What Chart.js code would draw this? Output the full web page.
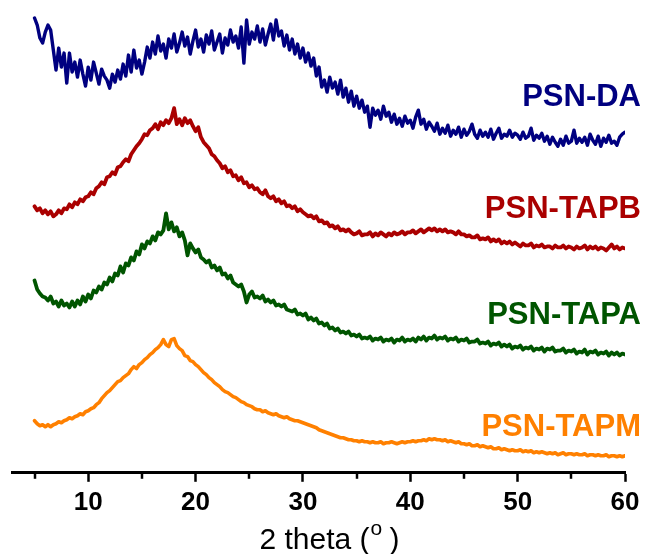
<!DOCTYPE html>
<html>
<head>
<meta charset="utf-8">
<script src="https://cdn.jsdelivr.net/npm/chart.js@4.4.1/dist/chart.umd.min.js"></script>
<style>
  html, body { margin: 0; padding: 0; background: #ffffff; }
  #wrap { width: 649px; height: 554px; }
</style>
</head>
<body>
<div id="wrap"><canvas id="xrd" width="649" height="554"></canvas></div>
<script>
// Powder XRD patterns, stacked with vertical offsets (intensity in a.u.).
// Scans run from 5° to 60° 2θ, sampled every 0.25°.
const scanStart = 5;
const scanStep = 0.25;

const psnDA = [
  454, 447, 434, 429,  440, 447, 442, 422,  402, 424, 405, 419,  389, 419, 400, 410,
  395, 412, 398, 386,  405, 392, 410, 399,  388, 403, 396, 392,  384, 398, 390, 402,
  393, 408, 396, 417,  400, 422, 404, 412,  398, 410, 425, 414,  430, 418, 436, 421,
  428, 414, 433, 424,  438, 420, 429, 440,  426, 435, 418, 431,  442, 425, 433, 420,
  437, 428, 441, 422,  430, 438, 419, 434,  427, 442, 430, 436,  424, 445, 409, 452,
  428, 440, 433, 446,  430, 443, 427, 438,  448, 432, 452, 436,  441, 426, 437, 422,
  433, 418, 428, 414,  424, 410, 419, 406,  414, 396, 405, 385,  392, 380, 395, 384,
  390, 378, 392, 375,  384, 370, 381, 366,  376, 364, 372, 360,  366, 345, 364, 357,
  362, 353, 366, 356,  360, 350, 358, 348,  354, 346, 356, 349,  352, 344, 355, 362,
  348, 353, 343, 350,  346, 341, 349, 338,  344, 339, 347, 336,  342, 338, 345, 335,
  343, 337, 341, 348,  338, 334, 342, 336,  340, 335, 343, 333,  339, 344, 334, 338,
  336, 342, 335, 339,  337, 333, 340, 334,  336, 344, 332, 337,  334, 339, 331, 336,
  328, 335, 330, 326,  333, 327, 336, 329,  331, 342, 329, 334,  330, 335, 327, 338,
  332, 328, 336, 326,  334, 330, 337, 329,  331, 327, 335, 338,  340
];

const psnTAPB = [
  266, 262, 264, 259,  262, 258, 261, 256,  258, 262, 259, 264,  263, 268, 265, 270,
  268, 273, 271, 275,  276, 280, 278, 284,  286, 290, 288, 295,  296, 300, 298, 305,
  306, 310, 313, 311,  318, 322, 326, 329,  333, 338, 337, 342,  344, 348, 343, 350,
  347, 352, 349, 354,  364, 348, 353, 347,  354, 349, 352, 346,  341, 345, 335, 330,
  327, 324, 318, 316,  312, 309, 304, 306,  300, 302, 296, 297,  292, 295, 289, 290,
  285, 287, 283, 284,  280, 278, 282, 276,  274, 276, 271, 273,  269, 271, 266, 267,
  264, 266, 261, 263,  260, 258, 256, 257,  254, 256, 251, 252,  249, 250, 246, 247,
  244, 246, 242, 243,  241, 243, 240, 238,  239, 241, 237, 238,  238, 240, 236, 239,
  237, 240, 238, 236,  239, 237, 240, 238,  239, 241, 238, 240,  240, 242, 239, 241,
  243, 240, 242, 244,  242, 244, 241, 243,  241, 243, 240, 241,  240, 238, 241, 238,
  238, 236, 237, 235,  235, 237, 233, 234,  233, 235, 231, 233,  231, 233, 229, 231,
  229, 231, 228, 230,  228, 226, 229, 227,  227, 229, 225, 227,  226, 228, 225, 226,
  226, 224, 227, 225,  225, 227, 224, 226,  225, 223, 226, 224,  225, 227, 223, 226,
  224, 226, 223, 225,  224, 222, 225, 228,  224, 226, 223, 225,  224
];

const psnTAPA = [
  192, 183, 179, 176,  175, 172, 176, 169,  171, 166, 172, 167,  169, 165, 171, 166,
  172, 168, 176, 171,  178, 174, 182, 180,  186, 183, 190, 188,  195, 191, 199, 197,
  206, 200, 209, 207,  215, 212, 221, 218,  228, 224, 231, 229,  236, 232, 240, 238,
  242, 259, 243, 250,  241, 245, 236, 240,  232, 217, 229, 224,  220, 223, 215, 213,
  210, 212, 205, 207,  202, 205, 198, 199,  194, 197, 190, 188,  186, 188, 181, 170,
  178, 181, 175, 176,  174, 177, 171, 173,  170, 172, 167, 168,  166, 168, 163, 162,
  161, 163, 158, 159,  157, 159, 153, 155,  152, 154, 149, 150,  147, 149, 144, 145,
  142, 144, 140, 141,  139, 141, 137, 138,  136, 138, 134, 135,  134, 136, 132, 134,
  133, 135, 131, 133,  132, 134, 130, 133,  132, 135, 131, 133,  132, 134, 131, 135,
  133, 136, 132, 135,  134, 137, 133, 135,  134, 136, 132, 134,  133, 135, 131, 133,
  132, 134, 130, 131,  131, 133, 129, 130,  129, 131, 127, 129,  128, 130, 126, 128,
  126, 128, 124, 126,  125, 127, 123, 125,  124, 126, 122, 124,  123, 125, 121, 124,
  123, 125, 121, 122,  122, 124, 120, 122,  121, 123, 119, 121,  120, 123, 118, 121,
  120, 122, 118, 120,  119, 121, 117, 120,  118, 120, 117, 119,  118
];

const psnTAPM = [
   52,  49,  47,  48,   46,  48,  46,  48,   49,  51,  50,  52,   53,  55,  54,  56,
   57,  59,  58,  61,   62,  64,  65,  68,   70,  74,  77,  80,   82,  85,  88,  91,
   92,  95,  97,  99,  103, 106, 104, 108,  110, 113, 115, 118,  120, 123, 125, 128,
  133, 128, 126, 133,  134, 127, 124, 122,  117, 116, 112, 111,  108, 106, 103, 100,
   98,  95,  93,  90,   88,  86,  83,  81,   80,  78,  76,  75,   73,  71,  70,  68,
   67,  66,  64,  63,   63,  61,  62,  60,   59,  58,  59,  57,   56,  55,  56,  54,
   53,  52,  52,  51,   50,  49,  48,  47,   46,  45,  43,  42,   41,  40,  39,  38,
   37,  36,  35,  35,   34,  33,  33,  32,   32,  31,  32,  31,   31,  30,  31,  30,
   30,  31,  29,  30,   30,  31,  30,  29,   30,  31,  30,  31,   31,  32,  31,  32,
   32,  33,  32,  34,   33,  34,  33,  33,   32,  33,  31,  32,   31,  30,  31,  29,
   29,  28,  29,  27,   27,  28,  26,  27,   26,  25,  26,  24,   24,  25,  23,  24,
   23,  22,  23,  22,   22,  23,  21,  22,   21,  22,  20,  21,   20,  21,  20,  19,
   20,  19,  20,  18,   19,  20,  18,  19,   19,  18,  19,  18,   18,  19,  17,  18,
   18,  17,  18,  17,   17,  18,  16,  17,   17,  16,  17,  16,   17
];

const seriesNames  = ['PSN-DA', 'PSN-TAPB', 'PSN-TAPA', 'PSN-TAPM'];
const seriesColors = ['#000080', '#AA0000', '#005500', '#FF8000'];
const seriesWidths = [3.4, 3.8, 3.8, 3.6];
// Intensity level (a.u.) at which each sample name sits, right of its trace.
const nameLevels   = [366, 254, 149, 37];

const majorTicks = [10, 20, 30, 40, 50, 60];
const minorTicks = [5, 15, 25, 35, 45, 55];
const tickLabels = ['10', '20', '30', '40', '50', '60'];

const seriesValues = [psnDA, psnTAPB, psnTAPA, psnTAPM];

function toPoints(values) {
  return values.map((v, i) => ({ x: scanStart + i * scanStep, y: v }));
}

// Sample names at the right end of each trace.
const namesPlugin = {
  id: 'sampleNames',
  afterDatasetsDraw(chart) {
    const { ctx } = chart;
    const yScale = chart.scales.y;
    ctx.save();
    ctx.font = 'bold 31px "Liberation Sans", Arial, sans-serif';
    ctx.textAlign = 'right';
    ctx.textBaseline = 'alphabetic';
    seriesNames.forEach((name, i) => {
      ctx.fillStyle = seriesColors[i];
      ctx.fillText(name, 641, yScale.getPixelForValue(nameLevels[i]));
    });
    ctx.restore();
  }
};

// Short minor ticks between the labelled ones, and the axis title with a raised degree mark.
const axisExtrasPlugin = {
  id: 'axisExtras',
  afterDraw(chart) {
    const { ctx, chartArea } = chart;
    const xScale = chart.scales.x;
    ctx.save();
    ctx.strokeStyle = '#000';
    ctx.lineWidth = 2.5;
    minorTicks.forEach(v => {
      const px = Math.round(xScale.getPixelForValue(v));
      ctx.beginPath();
      ctx.moveTo(px, chartArea.bottom);
      ctx.lineTo(px, chartArea.bottom + 6);
      ctx.stroke();
    });

    const main = '2 theta (';
    const sup = 'o';
    const tail = ' )';
    const mainFont = '30px "Liberation Sans", Arial, sans-serif';
    const supFont = '21px "Liberation Sans", Arial, sans-serif';
    ctx.fillStyle = '#000';
    ctx.textBaseline = 'alphabetic';
    ctx.font = mainFont;
    const wMain = ctx.measureText(main).width;
    const wTail = ctx.measureText(tail).width;
    ctx.font = supFont;
    const wSup = ctx.measureText(sup).width;
    const total = wMain + wSup + wTail;
    const centre = (chartArea.left + chartArea.right) / 2 + 11;
    let x = centre - total / 2;
    const base = 549;
    ctx.textAlign = 'left';
    ctx.font = mainFont;
    ctx.fillText(main, x, base);
    x += wMain;
    ctx.font = supFont;
    ctx.fillText(sup, x + 1, base - 14);
    x += wSup;
    ctx.font = mainFont;
    ctx.fillText(tail, x, base);
    ctx.restore();
  }
};

new Chart(document.getElementById('xrd'), {
  type: 'line',
  data: {
    datasets: seriesValues.map((vals, i) => ({
      label: seriesNames[i],
      data: toPoints(vals),
      borderColor: seriesColors[i],
      backgroundColor: seriesColors[i],
      borderWidth: seriesWidths[i],
      pointRadius: 0,
      tension: 0,
      fill: false,
      borderJoinStyle: 'round',
      borderCapStyle: 'round'
    }))
  },
  options: {
    responsive: false,
    animation: false,
    devicePixelRatio: 1,
    layout: { padding: { top: 12, left: 12, right: 24, bottom: 31 } },
    plugins: {
      legend: { display: false },
      tooltip: { enabled: false }
    },
    scales: {
      x: {
        type: 'linear',
        min: 2.9,
        max: 60,
        afterBuildTicks(scale) {
          scale.ticks = majorTicks.map(v => ({ value: v }));
        },
        ticks: {
          color: '#000',
          font: { family: '"Liberation Sans", Arial, sans-serif', size: 26, weight: 'bold' },
          padding: 5,
          maxRotation: 0,
          autoSkip: false,
          callback: (value) => {
            const k = majorTicks.indexOf(value);
            return k >= 0 ? tickLabels[k] : '';
          }
        },
        grid: {
          display: true,
          drawOnChartArea: false,
          drawTicks: true,
          tickLength: 9,
          tickWidth: 2.5,
          tickColor: '#000'
        },
        border: { display: true, color: '#000', width: 3 },
        title: { display: false }
      },
      y: {
        type: 'linear',
        display: false,
        min: 0,
        max: 460
      }
    }
  },
  plugins: [namesPlugin, axisExtrasPlugin]
});
</script>
</body>
</html>
